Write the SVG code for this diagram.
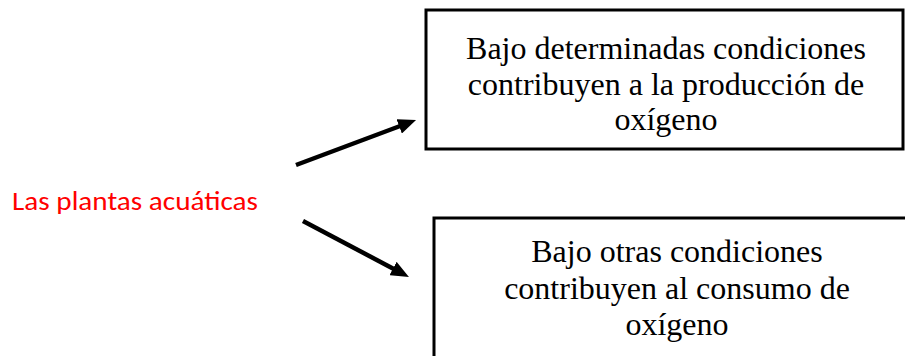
<svg xmlns="http://www.w3.org/2000/svg" width="905" height="356" viewBox="0 0 905 356">
<style>
.box{fill:#fff;stroke:#000;stroke-width:3}
.t{font-family:"Liberation Serif","Times New Roman",serif;font-size:32px;fill:#000;text-anchor:middle}
.lbl{font-family:"Carlito","Liberation Sans",Arial,sans-serif;font-size:27px;fill:#ff0000}
.conn{stroke:#000;stroke-width:4.5;fill:none}
</style>
<defs>
<marker id="ah" markerWidth="4" markerHeight="3.4" refX="1.5" refY="1.7" orient="auto" markerUnits="strokeWidth">
<path d="M0,0 L4,1.7 L0,3.4 Z" fill="#000"/>
</marker>
</defs>
<rect width="905" height="356" fill="#fff"/>
<g id="node-plantas">
<text class="lbl" x="12" y="210" textLength="246" lengthAdjust="spacingAndGlyphs">Las plantas acuáticas</text>
</g>
<g id="node-produccion">
<rect class="box" x="426" y="10" width="477" height="139"/>
<text class="t" x="666" y="59">Bajo determinadas condiciones</text>
<text class="t" x="666" y="95">contribuyen a la producción de</text>
<text class="t" x="666" y="130">oxígeno</text>
</g>
<g id="node-consumo">
<rect class="box" x="434" y="218" width="490" height="160"/>
<text class="t" x="677" y="262">Bajo otras condiciones</text>
<text class="t" x="677" y="299">contribuyen al consumo de</text>
<text class="t" x="677" y="335">oxígeno</text>
</g>
<g id="connectors">
<line class="conn" x1="296" y1="165" x2="405.5" y2="124" marker-end="url(#ah)"/>
<line class="conn" x1="303" y1="221" x2="399" y2="271.7" marker-end="url(#ah)"/>
</g>
</svg>
